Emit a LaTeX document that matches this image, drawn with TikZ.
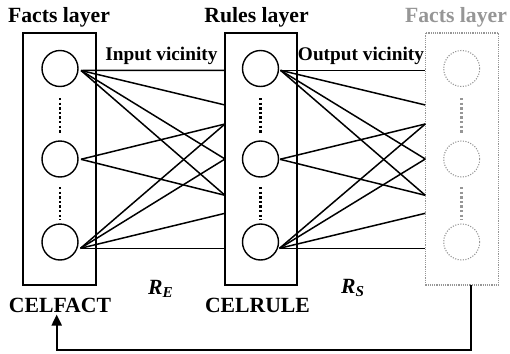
\documentclass[tikz,border=0pt]{standalone}
\usepackage{fontspec}
\setmainfont{Liberation Serif}
\usetikzlibrary{arrows.meta,calc}
\definecolor{ghost}{RGB}{150,150,150}
\begin{document}
\begin{tikzpicture}[x=0.5pt,y=-0.5pt,
  every node/.style={inner sep=0pt, outer sep=0pt},
  layerbox/.style={draw, line width=1pt, minimum width=36.5pt, minimum height=126pt},
  ghostbox/.style={layerbox, draw=ghost, line width=0.6pt, dash pattern=on 0.6pt off 0.5pt},
  neuron/.style={circle, draw, line width=0.7pt, minimum size=18pt},
  ghostneuron/.style={neuron, draw=ghost, line width=0.55pt, dash pattern=on 0.55pt off 0.75pt},
  link/.style={line width=0.75pt},
  vdots/.style={line width=1.4pt, dash pattern=on 1.2pt off 1.1pt},
  title/.style={font=\fontsize{10.85pt}{12pt}\selectfont\bfseries, anchor=base},
  vlabel/.style={font=\fontsize{9.65pt}{11pt}\selectfont\bfseries, anchor=base},
  feedback/.style={line width=1pt, -{Triangle[length=5.5pt,width=5pt]}}
]
\useasboundingbox (0,0) rectangle (510,354);

% layer boxes
\node[layerbox] (boxF) at (59.5,159) {};
\node[layerbox, minimum width=36pt] (boxR) at (261,159) {};
\node[ghostbox] (boxG) at (461.8,159) {};

% neurons
\foreach \n/\y in {1/68.5, 2/159, 3/242} {
  \node[neuron] (F\n) at (60,\y) {};
  \node[neuron] (R\n) at (260.5,\y) {};
  \node[ghostneuron] (G\n) at (461.7,\y) {};
}

% vertical dots
\draw[vdots] ($(F1.south)+(0,11.5)$) -- ($(F2.north)+(0,-8)$);
\draw[vdots] ($(F2.south)+(0,10)$) -- ($(F3.north)+(0,-4)$);
\draw[vdots] ($(R1.south)+(0,11.5)$) -- ($(R2.north)+(0,-8)$);
\draw[vdots] ($(R2.south)+(0,10)$) -- ($(R3.north)+(0,-4)$);
\draw[vdots, draw=ghost] ($(G1.south)+(0,11.5)$) -- ($(G2.north)+(0,-8)$);
\draw[vdots, draw=ghost] ($(G2.south)+(0,10)$) -- ($(G3.north)+(0,-4)$);

% output points of neurons
\coordinate (Fo1) at (81,70.5);
\coordinate (Fo2) at (81,159.3);
\coordinate (Fo3) at (80.5,248.3);
\coordinate (Ro1) at (280.5,70.3);
\coordinate (Ro2) at (280,159.3);
\coordinate (Ro3) at (279.5,248.3);

% input points on next layer box
\foreach \k/\y in {1/70.3, 2/105, 3/124, 4/159, 5/195.3, 6/213.3, 7/248.3} {
  \coordinate (Ri\k) at (225,\y);
  \coordinate (Gi\k) at (425.3,\y);
}

% connections
\foreach \s/\t in {1/1,1/2,1/4,1/5,2/3,2/5,3/3,3/4,3/6,3/7} {
  \draw[link] (Fo\s) -- (Ri\t);
  \draw[link] (Ro\s) -- (Gi\t);
}

% texts
\node[title] (tF) at (59,22.7) {Facts layer};
\node[title] (tR) at (256.5,22.7) {Rules layer};
\node[title, text=ghost] (tG) at (456,22.7) {Facts layer};
\node[vlabel] (iv) at (161.5,60) {Input vicinity};
\node[vlabel] (ov) at (361,60) {Output vicinity};
\node[title] (cf) at (60,312.7) {CELFACT};
\node[title] (cr) at (257.5,312.7) {CELRULE};
\node[title] (re) at (161,294) {\itshape R\textsubscript{E}};
\node[title] (rs) at (353,293.5) {\itshape R\textsubscript{S}};

% feedback arrow
\coordinate (fb1) at (470.7,350);
\coordinate (fb2) at (56.7,350);
\coordinate (fb3) at (56.7,314.5);
\draw[feedback] (boxG.south -| fb1) -- (fb1) -- (fb2) -- (fb3);
\end{tikzpicture}
\end{document}
